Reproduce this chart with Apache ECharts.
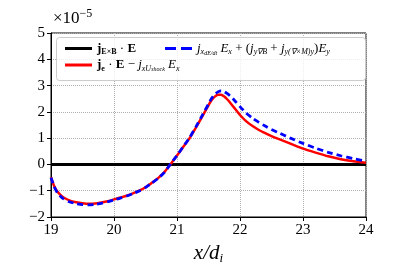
<!DOCTYPE html>
<html>
<head>
<meta charset="utf-8">
<script src="https://cdn.jsdelivr.net/npm/echarts@6/dist/echarts.min.js"></script>
<style>html,body{margin:0;padding:0;background:#fff}#c{width:407px;height:271px}</style>
</head>
<body>
<div id="c"></div>
<script>
const xs = [19, 19.05, 19.1, 19.15, 19.2, 19.3, 19.4, 19.5, 19.6, 19.7, 19.8, 19.9, 20, 20.1, 20.2, 20.3, 20.4, 20.5, 20.6, 20.7, 20.8, 20.9, 21, 21.1, 21.2, 21.3, 21.4, 21.5, 21.55, 21.6, 21.65, 21.7, 21.75, 21.8, 21.85, 21.9, 22, 22.1, 22.2, 22.3, 22.4, 22.5, 22.6, 22.8, 23, 23.2, 23.4, 23.6, 23.8, 24];
const blackVals = xs.map(() => 0);
const redVals = [-0.48, -0.82, -1.03, -1.16, -1.26, -1.38, -1.44, -1.48, -1.50, -1.49, -1.45, -1.40, -1.33, -1.26, -1.19, -1.10, -1.00, -0.87, -0.70, -0.52, -0.29, 0.02, 0.34, 0.67, 1.00, 1.40, 1.82, 2.25, 2.45, 2.58, 2.65, 2.65, 2.58, 2.47, 2.33, 2.18, 1.88, 1.64, 1.46, 1.31, 1.19, 1.08, 0.98, 0.79, 0.60, 0.45, 0.31, 0.20, 0.12, 0.06];
const blueVals = [-0.50, -0.85, -1.07, -1.21, -1.31, -1.43, -1.49, -1.53, -1.54, -1.52, -1.48, -1.42, -1.35, -1.28, -1.20, -1.11, -1.01, -0.88, -0.71, -0.53, -0.30, 0.02, 0.34, 0.68, 1.02, 1.43, 1.86, 2.30, 2.52, 2.67, 2.76, 2.80, 2.77, 2.69, 2.59, 2.47, 2.20, 1.95, 1.76, 1.60, 1.46, 1.33, 1.22, 1.00, 0.80, 0.62, 0.46, 0.33, 0.22, 0.13];
const xTicks = [19, 20, 21, 22, 23, 24];
const yTicks = [-2, -1, 0, 1, 2, 3, 4, 5];
const names = ['jExB', 'je', 'jx'];

const pair = (vals) => xs.map((x, i) => [x, vals[i]]);
const serif = 'Liberation Serif';
const labels = {
  jExB: '{b|j}{bs|E×B}{n| · }{b|E}',
  je: '{b|j}{bs|e}{n| · }{b|E}{n| − }{i|j}{s|xU}{ss|shock}{i| E}{s|x}',
  jx: '{i|j}{s|x}{ss|dE/dt}{i| E}{s|x}{n| + (}{i|j}{s|y∇B}{n| + }{i|j}{s|y(∇×M)y}{n|)}{i|E}{s|y}'
};
const rich = {
  b: {fontFamily: serif, fontWeight: 'bold', fontSize: 13, color: '#000'},
  bs: {fontFamily: serif, fontWeight: 'bold', fontSize: 8, color: '#000', verticalAlign: 'bottom', padding: [6, 0, 0, 0]},
  n: {fontFamily: serif, fontSize: 13, color: '#000'},
  i: {fontFamily: serif, fontStyle: 'italic', fontSize: 13, color: '#000'},
  s: {fontFamily: serif, fontStyle: 'italic', fontSize: 8, color: '#000', verticalAlign: 'bottom', padding: [6, 0, 0, 0]},
  ss: {fontFamily: serif, fontStyle: 'italic', fontSize: 6, color: '#000', verticalAlign: 'bottom', padding: [9, 0, 0, 0]}
};
const fmtNum = v => (v < 0 ? '\u2212' + Math.abs(v) : String(v));
const solidIcon = 'path://M0,0H27V3H0Z';
const dashIcon = 'path://M0,0H11V3H0Z M16,0H27V3H16Z';

const chart = echarts.init(document.getElementById('c'), null, {renderer: 'canvas'});
chart.setOption({
  animation: false,
  backgroundColor: '#fff',
  grid: {left: 51, right: 41, top: 33, bottom: 54, show: true, borderColor: '#000', borderWidth: 1, backgroundColor: 'transparent'},
  xAxis: {
    type: 'value', min: xTicks[0], max: xTicks[xTicks.length - 1], interval: 1,
    axisLine: {show: true, onZero: false, lineStyle: {color: '#000', width: 1}},
    axisTick: {show: true, length: 4, lineStyle: {color: '#000'}},
    axisLabel: {fontFamily: serif, fontSize: 15, color: '#000', margin: 6},
    splitLine: {show: true, lineStyle: {color: '#b0b0b0', type: 'dotted', width: 1}},
    name: '{i|x/d}{s|i}', nameLocation: 'middle', nameGap: 25,
    nameTextStyle: {rich: {
      i: {fontFamily: serif, fontStyle: 'italic', fontSize: 21, color: '#000'},
      s: {fontFamily: serif, fontStyle: 'italic', fontSize: 13, color: '#000', verticalAlign: 'bottom', padding: [10, 0, 0, 0]}
    }}
  },
  yAxis: {
    type: 'value', min: yTicks[0], max: yTicks[yTicks.length - 1], interval: 1,
    axisLine: {show: true, onZero: false, lineStyle: {color: '#000', width: 1}},
    axisTick: {show: true, length: 4, lineStyle: {color: '#000'}},
    axisLabel: {fontFamily: serif, fontSize: 15, color: '#000', margin: 6, formatter: fmtNum},
    splitLine: {show: true, lineStyle: {color: '#b0b0b0', type: 'dotted', width: 1}}
  },
  legend: [
    {data: [{name: names[0], icon: solidIcon}, {name: names[1], icon: solidIcon}], orient: 'vertical', left: 60, top: 37, itemWidth: 27, itemHeight: 3, itemGap: 3,
     formatter: n => labels[n], textStyle: {rich: rich}, selectedMode: false},
    {data: [{name: names[2], icon: dashIcon}], orient: 'vertical', left: 160, top: 37, itemWidth: 27, itemHeight: 3, itemGap: 3,
     formatter: n => labels[n], textStyle: {rich: rich}, selectedMode: false}
  ],
  graphic: [
    {type: 'rect', left: 56, top: 37, shape: {width: 309, height: 43, r: 3}, style: {fill: 'rgba(255,255,255,0.8)', stroke: '#cccccc', lineWidth: 1}, z: 1},
    {type: 'text', left: 53, top: 8, style: {rich: {
      m: {fontFamily: serif, fontSize: 17, color: '#000'},
      e: {fontFamily: serif, fontSize: 12, color: '#000', verticalAlign: 'top', padding: [0, 0, 9, 0]}
    }, text: '{m|×10}{e|\u22125}'}}
  ],
  series: [
    {name: names[0], type: 'line', data: pair(blackVals), symbol: 'none', lineStyle: {color: '#000', width: 3}, itemStyle: {color: '#000'}, z: 2},
    {name: names[1], type: 'line', data: pair(redVals), symbol: 'none', smooth: 0.2, lineStyle: {color: '#ff0000', width: 2.5}, itemStyle: {color: '#ff0000'}, z: 3},
    {name: names[2], type: 'line', data: pair(blueVals), symbol: 'none', smooth: 0.2, lineStyle: {color: '#0000ff', width: 2.8, type: [6, 4]}, itemStyle: {color: '#0000ff'}, z: 4}
  ]
});
</script>
</body>
</html>
